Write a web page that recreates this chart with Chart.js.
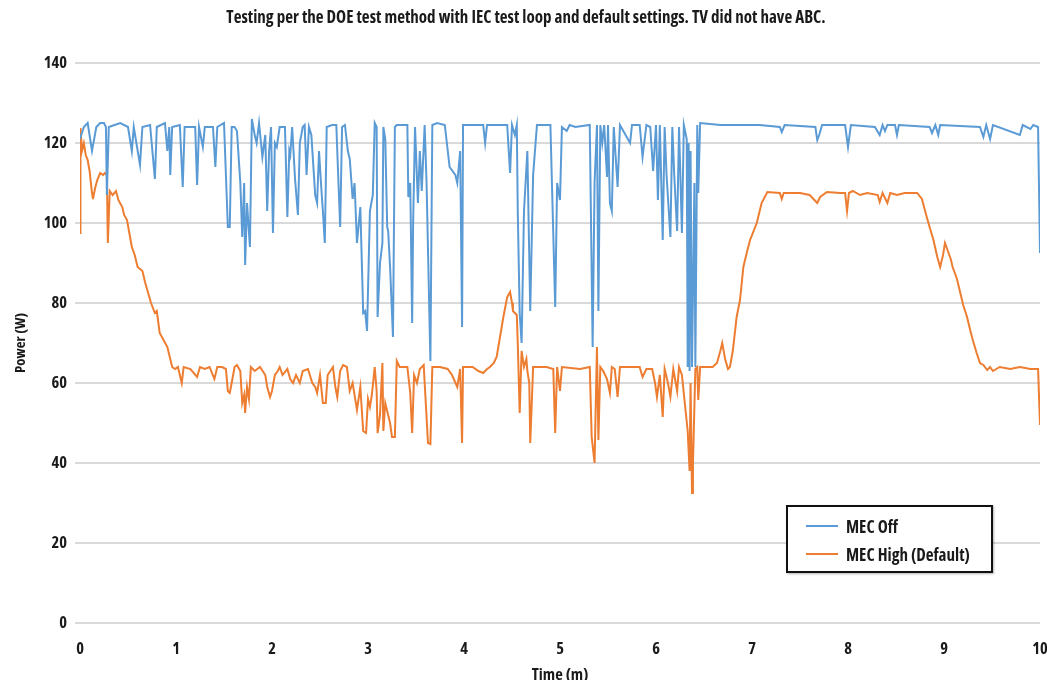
<!DOCTYPE html>
<html>
<head>
<meta charset="utf-8">
<script src="https://cdn.jsdelivr.net/npm/chart.js@4/dist/chart.umd.min.js"></script>
<style>
  html, body { margin: 0; padding: 0; background: #fff; overflow: hidden; width: 1047px; height: 680px; }
  #c { position: absolute; left: 0; top: 0; }
  #legend { position: absolute; left: 786px; top: 505px; width: 203px; height: 64px; border: 2px solid #111;
            background: #fff; box-shadow: 1px 1px 2px rgba(0,0,0,0.3); color: #1a1a1a; font-weight: bold; }
  .item { position: absolute; left: 18px; white-space: nowrap; display: flex; align-items: center; }
  .swatch { display: inline-block; width: 32px; height: 2px; margin-right: 8px; }
</style>
</head>
<body>
<canvas id="c" width="1052" height="690"></canvas>
<div id="legend"></div>
<script>
// ---- data (time in minutes, power in watts) ----
const chartTitle = 'Testing per the DOE test method with IEC test loop and default settings. TV did not have ABC.';
const seriesNames = ['MEC Off', 'MEC High (Default)'];
const xTitle = 'Time (m)';
const yTitle = 'Power (W)';
const xTicks = [0, 1, 2, 3, 4, 5, 6, 7, 8, 9, 10];
const yTicks = [0, 20, 40, 60, 80, 100, 120, 140];

const offTime = [0.00,0.04,0.08,0.125,0.17,0.21,0.25,0.27,0.28,0.30,0.36,0.42,0.50,0.54,0.56,0.625,0.65,0.73,0.78,0.80,0.885,0.91,0.93,0.94,0.96,1.04,1.07,1.09,1.20,1.22,1.24,1.28,1.30,1.385,1.41,1.43,1.50,1.54,1.56,1.58,1.61,1.635,1.67,1.69,1.71,1.72,1.74,1.77,1.79,1.82,1.84,1.865,1.90,1.93,1.95,1.97,1.99,2.01,2.03,2.05,2.08,2.135,2.16,2.18,2.19,2.21,2.24,2.27,2.29,2.32,2.34,2.36,2.385,2.41,2.45,2.47,2.49,2.51,2.53,2.55,2.57,2.625,2.67,2.69,2.71,2.73,2.76,2.79,2.81,2.84,2.86,2.885,2.92,2.95,2.97,2.99,3.02,3.05,3.07,3.09,3.10,3.125,3.15,3.16,3.18,3.20,3.21,3.23,3.26,3.28,3.30,3.41,3.42,3.44,3.46,3.47,3.49,3.52,3.54,3.56,3.59,3.61,3.65,3.67,3.72,3.80,3.85,3.91,3.93,3.96,3.98,3.99,4.20,4.22,4.24,4.45,4.48,4.50,4.53,4.55,4.56,4.58,4.60,4.625,4.66,4.69,4.72,4.76,4.90,4.95,4.97,5.00,5.02,5.07,5.10,5.16,5.31,5.34,5.36,5.385,5.40,5.42,5.44,5.46,5.49,5.50,5.52,5.54,5.56,5.60,5.625,5.73,5.75,5.83,5.86,5.90,5.94,5.97,6.00,6.02,6.04,6.07,6.09,6.11,6.15,6.17,6.19,6.22,6.24,6.27,6.29,6.32,6.33,6.34,6.35,6.36,6.375,6.40,6.41,6.43,6.44,6.46,6.67,7.08,7.29,7.31,7.34,7.66,7.68,7.70,7.73,7.97,8.00,8.03,8.28,8.33,8.36,8.385,8.41,8.49,8.51,8.53,8.85,8.875,8.91,8.94,8.96,9.375,9.41,9.44,9.48,9.51,9.79,9.82,9.90,9.93,9.98,10.00];
const offWatts = [121,124,125,118,124,125,125,124,107,124,124.5,125,124,118,124,114.5,124,124.5,111,124,125,118,124,112,124,124.5,109,124,124,109.5,124,119,124,124,114,124,125,99,99,124,124,123,110,96.5,110,89.5,105,94,126,122,120,125,116.5,122,103,118,124,97.5,120,119,124,124,101.5,118,117,124,111,102,120,124,124.5,112,124,122,107,105,118,110,103,95,124,124.5,124.5,111.5,99,124,124.5,118,116,106,110,95,104,77.5,78,73,103,107,125,124,76.5,90,95,124,121,99,98,89,71.5,124,124.5,124.5,106.5,110,75,100,124,105,118,108,124.5,110,65.5,124.5,125,124.5,114,112,110,118,74,124.5,124.5,120,124.5,124.5,112.5,124.5,122,124.5,103,77.5,70,103,118,78,112,124.5,124.5,79,110,105.75,124,123,124.5,124,124.5,69,110,124.5,78,124.5,120,124.5,111.5,124.5,105,103,124,109,124.5,120,124.5,124.5,116.5,124.5,124,113,124.5,105.75,124.5,95.75,124,112,96.5,124,112,98,124,97.5,124.5,121,64,120,63,118,64,110,64,124.5,107.5,125,124.5,124.5,124,122.75,124.5,124,120.75,122,124.5,124.5,119,124.5,124,122,124.5,123,124.5,124.5,122,124.5,124,122.5,124.5,122,124.5,124,121.5,124.5,121,124.5,122,124.5,123.5,124.5,124,92.5];

const highTime = [0.00,0.005,0.02,0.04,0.06,0.08,0.10,0.125,0.135,0.16,0.18,0.21,0.24,0.26,0.28,0.29,0.31,0.34,0.375,0.40,0.44,0.46,0.49,0.51,0.54,0.57,0.60,0.65,0.68,0.71,0.74,0.78,0.80,0.83,0.865,0.91,0.94,0.96,0.99,1.02,1.06,1.08,1.15,1.22,1.25,1.30,1.35,1.40,1.43,1.48,1.52,1.54,1.56,1.58,1.61,1.635,1.67,1.69,1.71,1.72,1.74,1.76,1.78,1.82,1.875,1.93,1.95,1.98,2.00,2.03,2.06,2.08,2.11,2.16,2.19,2.22,2.25,2.29,2.32,2.375,2.42,2.45,2.47,2.50,2.53,2.56,2.58,2.635,2.66,2.68,2.71,2.74,2.78,2.81,2.84,2.885,2.92,2.95,2.98,3.00,3.02,3.04,3.07,3.09,3.10,3.125,3.15,3.16,3.18,3.21,3.23,3.25,3.28,3.30,3.33,3.41,3.44,3.46,3.48,3.51,3.54,3.58,3.625,3.65,3.67,3.75,3.83,3.875,3.93,3.96,3.98,3.99,4.09,4.15,4.20,4.24,4.27,4.31,4.34,4.375,4.41,4.45,4.48,4.50,4.51,4.55,4.56,4.58,4.60,4.625,4.65,4.66,4.68,4.69,4.72,4.86,4.93,4.95,4.97,5.00,5.02,5.21,5.31,5.33,5.36,5.385,5.40,5.42,5.45,5.49,5.52,5.54,5.57,5.60,5.625,5.83,5.86,5.90,5.96,5.99,6.01,6.04,6.07,6.09,6.125,6.15,6.18,6.22,6.24,6.27,6.30,6.33,6.35,6.36,6.375,6.385,6.41,6.43,6.44,6.46,6.59,6.635,6.67,6.69,6.72,6.75,6.77,6.80,6.84,6.875,6.91,6.95,6.98,7.05,7.10,7.16,7.29,7.31,7.33,7.50,7.60,7.68,7.71,7.78,7.92,7.97,7.99,8.01,8.05,8.125,8.20,8.31,8.33,8.36,8.41,8.44,8.51,8.59,8.72,8.77,8.82,8.85,8.89,8.93,8.96,8.99,9.01,9.04,9.07,9.09,9.135,9.17,9.20,9.24,9.27,9.30,9.34,9.375,9.41,9.45,9.48,9.51,9.58,9.69,9.79,9.90,9.98,10.00];
const highWatts = [97.5,123.75,118,120,117,115.75,113,107.5,106,109,110.75,112.5,112,112.5,112,95,108,107,108,105.75,104,102,100.75,98,94,92,89,88,85,82.5,80,77.5,78,72.5,71,69,66,64,63.5,64,60,64,63.5,61.5,64,63.5,64,61,64,64,63.5,58,57.5,60,64,64.5,63,55,57,52.5,59,56,64,63,64,62,59,56.5,58,62,63,64,62,63.5,61,60,62,60,63,63.5,60,59,57.5,62,55,55,62,64,59,56.5,63,64.5,64,58,60,53.25,59,48,47.5,56,54,57,64,58,47.5,52,65,48,55,52,50,46.5,46.5,65.5,64,64,57.5,47.5,62,60,63.5,64.5,45,44.75,64,64,63.5,62,59,63.5,45,64,64,63,62.5,63.5,64,65,66.5,71.5,76.5,81.5,82.75,80,78,77,70,52.5,68,64,66,63,60,45,64,64,63.5,47.5,64,58,64,63.5,64,46.5,40,69,45.75,64,63,61,57.5,64,63.5,56.5,64,64,61.5,63.5,63.5,60,56.5,62,51.5,63.5,60,56.5,63.5,58,64,62,55,48,38,60,32.5,40,63.5,64,55.75,64,64,65,68,70,66,63.5,64,68,76.5,80.75,89,93,95.75,100,105,107.75,107.5,106,107.5,107.5,107,105,106.5,107.75,107.5,107.5,103,107.5,108,107,107.5,107,105.25,107.5,105,107.5,107,107.5,107.5,106,101.5,99,95.75,91.5,89,92,95,93,91,89,86,82.5,79.5,76.5,73.5,70.75,67.5,65,64.5,63.25,64,63,64,63.5,64,63.5,63.5,49.5];

const seriesColors = ['#5b9bd5', '#ed7d31'];
// -------------------------------------------------

// ---- pick the narrowest (condensed) bold sans that is installed ----
const probe = document.createElement('canvas').getContext('2d');
function textW(font, text) {
  probe.font = '10px serif';
  probe.font = font;
  if (probe.font === '10px serif') return NaN;
  return probe.measureText(text).width;
}
function installed(fam) {
  const t = 'MEC High (Default) 0123456789 abcdefghijklmnopqrstuvwxyz';
  return ['monospace', 'serif', 'sans-serif'].some(g => Math.abs(textW('bold 40px ' + fam + ', ' + g, t) - textW('bold 40px ' + g, t)) > 0.5);
}
const candidates = [
  { fam: "'Liberation Sans Narrow'", st: '' },
  { fam: "'Roboto Condensed'", st: '' },
  { fam: "'DejaVu Sans Condensed'", st: '' },
  { fam: "'Open Sans Condensed'", st: '' },
  { fam: "'Noto Sans'", st: 'condensed' },
  { fam: "Roboto", st: 'condensed' },
  { fam: "'Open Sans'", st: 'condensed' },
  { fam: "'DejaVu Sans'", st: 'condensed' },
  { fam: "'Liberation Sans'", st: 'condensed' },
  { fam: "Roboto", st: '' },
  { fam: "Lato", st: '' },
  { fam: "'Liberation Sans'", st: '' }
];
let best = null;
candidates.forEach(c => {
  if (!installed(c.fam)) return;
  let wt;
  if (c.st) {
    const wc = textW('bold ' + c.st + ' 15px ' + c.fam, chartTitle);
    const wn = textW('bold 15px ' + c.fam, chartTitle);
    if (!(wc < wn - 2)) return;
    wt = wc;
  } else {
    wt = textW('bold 15px ' + c.fam, chartTitle);
  }
  if (!isNaN(wt) && (!best || wt < best.w - 0.5)) best = { fam: c.fam, st: c.st, w: wt };
});
if (!best) best = { fam: 'sans-serif', st: '', w: textW('bold 15px sans-serif', chartTitle) };
const FAMILY = best.fam + ', sans-serif';
const WEIGHT = best.st ? 'bold ' + best.st : 'bold';
const clamp = (v, a, b) => Math.max(a, Math.min(b, v));
const S = clamp(15 * 609 / best.w, 12, 17);              // title width in reference ~609px
const TICK = clamp(S, 13, 16.5);
const legendProbe = textW(WEIGHT + ' 15px ' + FAMILY, seriesNames[1]);
const LEG = clamp(15 * 137 / legendProbe, 12, 17);       // legend label width ~137px
// --------------------------------------------------------------------

const toPoints = (xs, ys) => xs.map((x, i) => ({ x: x, y: ys[i] }));
const font = (size) => ({ family: FAMILY, size: size, weight: WEIGHT, lineHeight: 1.2 });

const chart = new Chart(document.getElementById('c'), {
  type: 'line',
  data: {
    datasets: [
      { label: seriesNames[0], data: toPoints(offTime, offWatts), borderColor: seriesColors[0], backgroundColor: seriesColors[0],
        borderWidth: 2, pointRadius: 0, tension: 0, fill: false },
      { label: seriesNames[1], data: toPoints(highTime, highWatts), borderColor: seriesColors[1], backgroundColor: seriesColors[1],
        borderWidth: 2, pointRadius: 0, tension: 0, fill: false }
    ]
  },
  options: {
    responsive: false,
    animation: false,
    layout: { padding: 0 },
    plugins: {
      legend: { display: false },
      tooltip: { enabled: false },
      title: {
        display: true, text: chartTitle, color: '#1a1a1a',
        font: font(S),
        padding: { top: 18 - 0.6 * S, bottom: 45 - 0.6 * S }
      }
    },
    scales: {
      x: {
        type: 'linear', min: xTicks[0], max: xTicks[xTicks.length - 1],
        afterBuildTicks: (s) => { s.ticks = xTicks.map(v => ({ value: v })); },
        grid: { display: false, drawTicks: false },
        border: { display: false },
        ticks: { color: '#1a1a1a', padding: 26 - 0.6 * TICK, maxRotation: 0, autoSkip: false, font: font(TICK) },
        title: { display: true, text: xTitle, color: '#1a1a1a', font: font(TICK), padding: { top: 0, bottom: 5 } },
        afterFit: (s) => { s.height = 67; s.paddingLeft = 0; s.paddingRight = 0; }
      },
      y: {
        min: yTicks[0], max: yTicks[yTicks.length - 1],
        afterBuildTicks: (s) => { s.ticks = yTicks.map(v => ({ value: v })); },
        grid: { color: '#d9d9d9', lineWidth: 2, drawTicks: true, tickLength: 5 },
        border: { display: false },
        ticks: { color: '#1a1a1a', padding: 8, font: font(TICK) },
        title: { display: true, text: yTitle, color: '#1a1a1a', font: font(TICK * 0.9), padding: { top: 12, bottom: 0 } },
        afterFit: (s) => { s.width = 80; }
      },
      // empty right-hand spacer axis so the plot ends at x = 1040 px
      yRight: {
        position: 'right', display: true, min: yTicks[0], max: yTicks[yTicks.length - 1],
        grid: { display: false, drawTicks: false }, border: { display: false },
        ticks: { display: false },
        afterFit: (s) => { s.width = 12; s.paddingTop = 0; s.paddingBottom = 0; }
      }
    }
  }
});

// HTML legend built from the chart's datasets
const legendEl = document.getElementById('legend');
legendEl.style.fontFamily = FAMILY;
legendEl.style.fontStretch = best.st || 'normal';
legendEl.style.fontSize = LEG + 'px';
chart.data.datasets.forEach((ds, i) => {
  const item = document.createElement('div');
  item.className = 'item';
  item.style.height = '20px';
  item.style.top = (i === 0 ? 9 : 37) + 'px';
  const sw = document.createElement('span');
  sw.className = 'swatch';
  sw.style.background = ds.borderColor;
  item.appendChild(sw);
  item.appendChild(document.createTextNode(ds.label));
  legendEl.appendChild(item);
});
</script>
</body>
</html>
